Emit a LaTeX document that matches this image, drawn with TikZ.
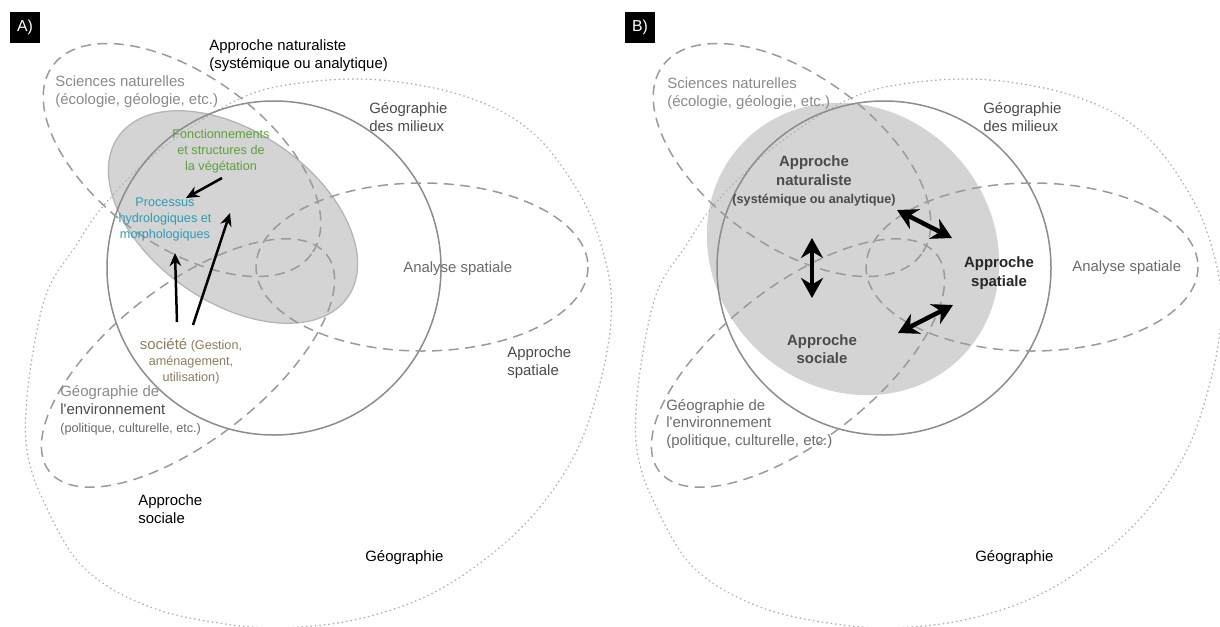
\documentclass[tikz,border=0pt]{standalone}
\usepackage{fontspec}
\setmainfont{Liberation Sans}
\usetikzlibrary{arrows.meta, positioning}
\definecolor{dashcol}{HTML}{9A9A9A}
\definecolor{ringcol}{HTML}{8C8C8C}
\definecolor{dotcol}{HTML}{B0B0B0}
\definecolor{blobcol}{HTML}{D4D4D4}
\definecolor{blobedge}{HTML}{B4B4B4}
\definecolor{vegcol}{HTML}{5E9F3E}
\definecolor{hydcol}{HTML}{2E9CB5}
\definecolor{soccol}{HTML}{8E7B5E}
\definecolor{txtlight}{HTML}{8A8A8A}
\definecolor{txtmid}{HTML}{6A6A6A}
\definecolor{txtdark}{HTML}{4A4A4A}

\begin{document}
\begin{tikzpicture}[x=0.02cm, y=-0.02cm,
    lbl/.style={font=\fontsize{8.5}{10.2}\selectfont, align=left, anchor=west, inner sep=0pt},
    lblsmall/.style={font=\fontsize{7.2}{9.1}\selectfont, align=center, inner sep=0pt},
    lblbold/.style={font=\fontsize{8.5}{10.6}\selectfont\bfseries, align=center, inner sep=0pt},
    panel/.style={fill=black, text=white, font=\fontsize{9}{10}\selectfont, minimum width=0.6cm, minimum height=0.62cm, inner sep=0pt},
    dashline/.style={draw=dashcol, line width=0.3mm, dash pattern=on 2mm off 1.3mm},
    ring/.style={draw=ringcol, line width=0.3mm},
    dotline/.style={draw=dotcol, line width=0.3mm, dash pattern=on 0.1mm off 0.8mm, line cap=round},
    arr/.style={line width=0.5mm, -{Stealth[length=2.6mm, width=2.3mm]}},
    darr/.style={line width=0.9mm, {Stealth[length=4mm, width=4.4mm]}-{Stealth[length=4mm, width=4.4mm]}}
]
    \useasboundingbox (0,0) rectangle (1220,626);

    % --- grey cores ---
    \draw[draw=blobedge, fill=blobcol, line width=0.25mm, rotate around={-35:(233,217)}]
        (233,217) ellipse [x radius=140, y radius=85];
    \fill[blobcol, rotate around={-45:(853,249)}]
        (853,249) ellipse [x radius=153, y radius=139];

    % --- shared outlines, panel A then panel B ---
    \foreach \dx in {0,610} {
        \begin{scope}[shift={(\dx,0)}]
            \draw[dotline] plot[smooth cycle, tension=0.6] coordinates {
                (300,83) (380,80) (467,97) (533,133) (583,200) (607,267) (611,320)
                (600,383) (577,450) (540,507) (493,553) (433,593) (367,617) (300,627)
                (233,625) (150,607) (83,567) (43,500) (27,450) (27,397) (37,330)
                (50,285) (75,247) (104,205) (160,150) (237,100)};
            \draw[ring] (274,268) circle [radius=167];
            \draw[dashline, rotate around={-36:(182,160)}] (182,160) ellipse [x radius=160, y radius=85];
            \draw[dashline] (422,267) ellipse [x radius=166, y radius=84];
            \draw[dashline, rotate around={38:(188,363)}] (188,363) ellipse [x radius=176, y radius=77];
        \end{scope}
    }

    % --- A) ---
    \node[panel] (tagA) at (25,27) {A)};
    \node[lbl] (natA) at (209,56) {Approche naturaliste\\(systémique ou analytique)};
    \node[lbl, text=txtlight] (sciA) at (55,92) {Sciences naturelles\\(écologie, géologie, etc.)};
    \node[lbl, text=txtdark] (milA) at (369,117) {Géographie\\des milieux};
    \node[lbl, text=txtmid] (anaA) at (403,269) {Analyse spatiale};
    \node[lblsmall, text=vegcol] (vegA) at (221,151) {Fonctionnements\\et structures de\\la végétation};
    \node[lblsmall, text=hydcol] (hydA) at (165,219) {Processus\\hydrologiques et\\morphologiques};
    \node[lblsmall, text=soccol] (socA) at (191,361) {{\fontsize{8.5}{10.2}\selectfont société} (Gestion,\\aménagement,\\utilisation)};
    \node[lbl, text=txtdark] (envA) at (60,410) {\textcolor{txtlight}{Géographie de}\\l\textquotesingle environnement\\{\fontsize{7.2}{9}\selectfont\color{txtmid}(politique, culturelle, etc.)}};
    \node[lbl] (socialA) at (138,509) {Approche\\sociale};
    \node[lbl, text=txtdark] (spaA) at (507,363) {Approche\\spatiale};
    \node[lbl] (geoA) at (365,558) {Géographie};

    \coordinate (vegfoot) at (222,178);
    \coordinate (veghead) at (186,198);
    \coordinate (socfootL) at (177,322);
    \coordinate (socheadL) at (175,253);
    \coordinate (socfootR) at (193,325);
    \coordinate (socheadR) at (230,213);
    \draw[arr] (vegfoot) -- (veghead);
    \draw[arr] (socfootL) -- (socheadL);
    \draw[arr] (socfootR) -- (socheadR);

    % --- B) ---
    \node[panel] (tagB) at (640,27) {B)};
    \node[lbl, text=txtlight] (sciB) at (667,94) {Sciences naturelles\\(écologie, géologie, etc.)};
    \node[lbl, text=txtdark] (milB) at (983,117) {Géographie\\des milieux};
    \node[lblbold, text=txtdark] (natB) at (814,181) {Approche\\naturaliste\\{\fontsize{7.2}{9}\selectfont(systémique ou analytique)}};
    \node[lblbold, text=black!85] (spaB) at (999,273) {Approche\\spatiale};
    \node[lblbold, text=txtdark] (socB) at (822,349) {Approche\\sociale};
    \node[lbl, text=txtmid] (anaB) at (1072,268) {Analyse spatiale};
    \node[lbl, text=txtmid] (envB) at (666,424) {Géographie de\\l\textquotesingle environnement\\(politique, culturelle, etc.)};
    \node[lbl] (geoB) at (975,558) {Géographie};

    \coordinate (natsocN) at (812,238);
    \coordinate (natsocS) at (812,298);
    \coordinate (natspaW) at (897,210);
    \coordinate (natspaE) at (952,238);
    \coordinate (socspaW) at (898,333);
    \coordinate (socspaE) at (953,305);
    \draw[darr] (natsocN) -- (natsocS);
    \draw[darr] (natspaW) -- (natspaE);
    \draw[darr] (socspaW) -- (socspaE);
\end{tikzpicture}
\end{document}
